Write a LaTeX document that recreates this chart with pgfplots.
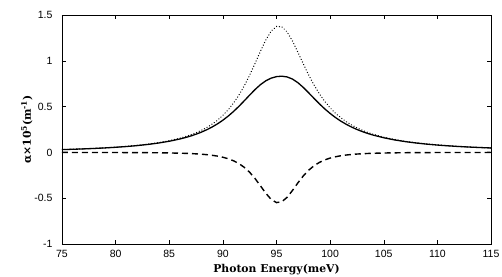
\documentclass[border=0pt]{standalone}
\usepackage{fontspec}
\setmainfont{DejaVu Serif}
\newfontfamily\ticksans{Liberation Sans}
\usepackage{pgfplots}
\pgfplotsset{compat=1.18}
\usepackage{pgfplotstable}
\pgfplotstableread{
E L D S
75 0.03097 -0.00045 0.03052
76 0.03464 -0.00054 0.03410
77 0.03893 -0.00067 0.03826
78 0.04399 -0.00083 0.04316
79 0.05000 -0.00105 0.04895
80 0.05719 -0.00134 0.05585
81 0.06590 -0.00173 0.06417
82 0.07657 -0.00228 0.07429
83 0.08980 -0.00306 0.08674
84 0.10642 -0.00420 0.10222
85 0.12765 -0.00590 0.12175
86 0.15522 -0.00852 0.14670
86.5 0.17214 -0.01036 0.16178
87 0.19171 -0.01270 0.17901
87.5 0.21445 -0.01571 0.19874
88 0.24100 -0.01961 0.22139
88.5 0.27217 -0.02473 0.24744
89 0.30893 -0.03151 0.27742
89.5 0.35250 -0.04056 0.31194
90 0.40428 -0.05276 0.35152
90.5 0.46596 -0.06932 0.39664
91 0.53932 -0.09185 0.44747
91.5 0.62616 -0.12245 0.50371
92 0.72768 -0.16359 0.56409
92.5 0.84377 -0.21757 0.62620
93 0.97158 -0.28539 0.68619
93.5 1.10375 -0.36438 0.73937
94 1.22693 -0.44548 0.78145
94.5 1.32354 -0.51293 0.81061
95 1.37519 -0.54792 0.82727
95.5 1.37093 -0.53885 0.83208
96 1.31260 -0.48884 0.82376
96.5 1.21367 -0.41361 0.80006
97 1.09257 -0.33174 0.76083
97.5 0.96582 -0.25659 0.70923
98 0.84472 -0.19428 0.65044
98.5 0.73520 -0.14567 0.58953
99 0.63939 -0.10907 0.53032
99.5 0.55714 -0.08198 0.47516
100 0.48723 -0.06207 0.42516
100.5 0.42803 -0.04743 0.38060
101 0.37793 -0.03661 0.34132
101.5 0.33544 -0.02856 0.30688
102 0.29928 -0.02251 0.27677
102.5 0.26835 -0.01792 0.25043
103 0.24177 -0.01441 0.22736
103.5 0.21884 -0.01169 0.20715
104 0.19895 -0.00957 0.18938
105 0.16637 -0.00656 0.15981
106 0.14113 -0.00464 0.13649
107 0.12123 -0.00336 0.11787
108 0.10529 -0.00249 0.10280
109 0.09234 -0.00188 0.09046
110 0.08168 -0.00144 0.08024
111 0.07281 -0.00112 0.07169
112 0.06534 -0.00089 0.06445
113 0.05901 -0.00071 0.05830
114 0.05358 -0.00058 0.05300
115 0.04890 -0.00047 0.04843
}\datatable
\begin{document}
\begin{tikzpicture}
\useasboundingbox (-62pt,-32pt) rectangle (440pt,244pt);
\begin{axis}[
  at={(0,0)}, anchor=south west,
  scale only axis, width=429pt, height=229pt,
  xmin=75, xmax=115, ymin=-1, ymax=1.5,
  xtick={75,80,...,115},
  ytick={-1,-0.5,0,0.5,1,1.5},
  tick align=inside, major tick length=4pt,
  tick style={black, line width=0.5pt},
  axis line style={black, line width=0.7pt},
  /pgf/number format/assume math mode=true,
  ticklabel style={font=\ticksans\fontsize{10.5}{11}\selectfont},
  xticklabel style={yshift=-3pt},
  yticklabel style={xshift=-6pt},
  xlabel={\bfseries Photon Energy(meV)},
  ylabel={\bfseries α×10\textsuperscript{5}(m\textsuperscript{-1})},
  label style={font=\fontsize{10.8}{12}\selectfont},
  xlabel style={yshift=1pt},
  ylabel style={yshift=-5pt},
]
\addplot[black, line width=1.3pt] table[x=E,y=S]{\datatable};
\addplot[black, line width=1.3pt, dash pattern=on 0.1pt off 2.8pt, line cap=round] table[x=E,y=L]{\datatable};
\addplot[black, line width=1.4pt, dash pattern=on 6pt off 4pt] table[x=E,y=D]{\datatable};
\end{axis}
\end{tikzpicture}
\end{document}
